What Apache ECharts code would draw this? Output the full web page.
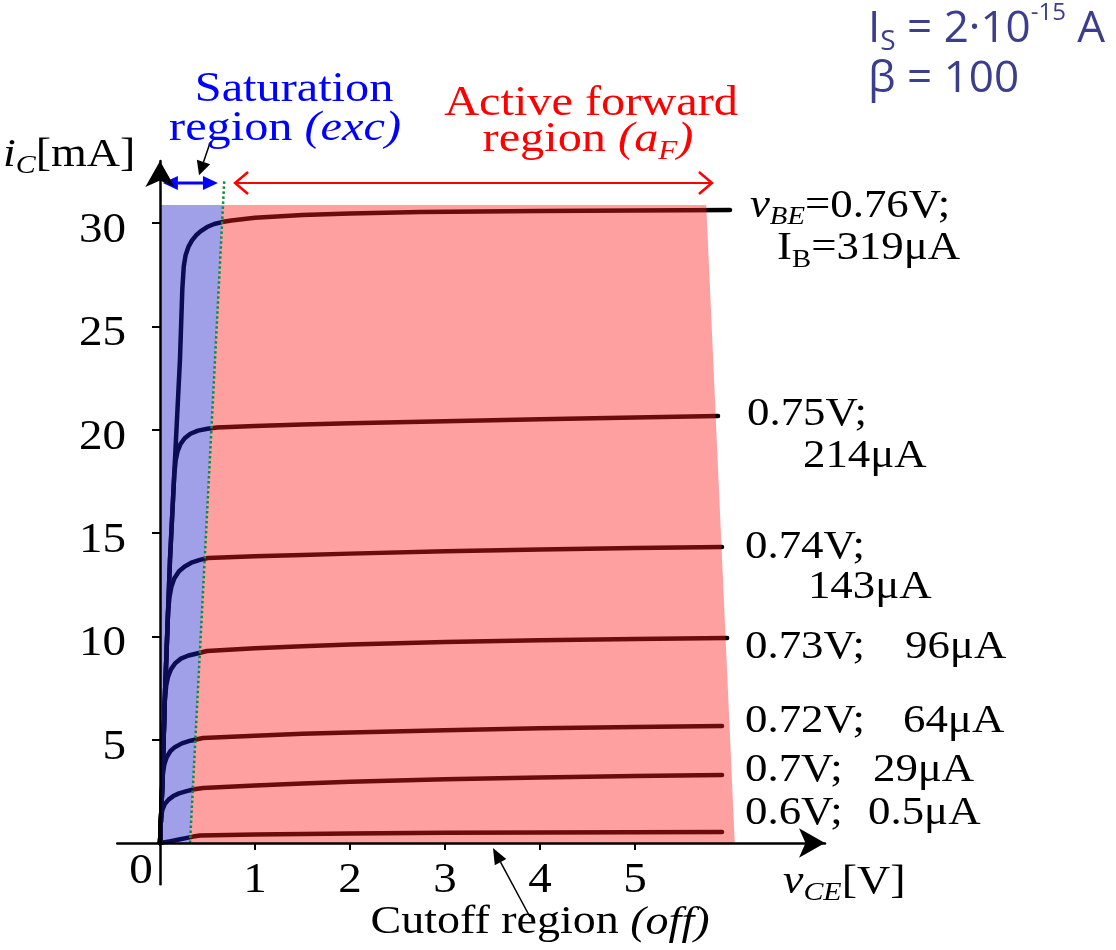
<!DOCTYPE html>
<html>
<head>
<meta charset="utf-8">
<title>BJT output characteristics</title>
<script src="https://cdn.jsdelivr.net/npm/echarts@6.0.0/dist/echarts.min.js"></script>
<style>
html,body{margin:0;padding:0;background:#ffffff;}
#chart{width:1116px;height:950px;}
</style>
</head>
<body>
<div id="chart"></div>
<script>
// ---------------- data ----------------
const xTickValues = [1, 2, 3, 4, 5];            // v_CE [V]
const yTickValues = [5, 10, 15, 20, 25, 30];    // i_C [mA]

const vbeValues = ['0.76V', '0.75V', '0.74V', '0.73V', '0.72V', '0.7V', '0.6V'];
const ibValues  = ['319μA', '214μA', '143μA', '96μA', '64μA', '29μA', '0.5μA'];

// curves: [v_CE (V), i_C (mA)]
const curveVbe076 = [[0,0],[0.021,2.42],[0.053,7.26],[0.105,13.69],[0.21,23.37],[0.235,26.8],[0.25,27.9],[0.27,28.45],[0.3,28.85],[0.337,29.15],[0.38,29.4],[0.43,29.6],[0.495,29.8],[0.57,29.95],[0.653,30.04],[0.75,30.12],[1.0,30.25],[1.5,30.38],[2.0,30.46],[2.74,30.53],[4.0,30.58],[6.0,30.62]];
const curveVbe075 = [[0,0],[0.021,2.42],[0.053,7.26],[0.105,13.69],[0.15,17.8],[0.165,18.5],[0.185,18.95],[0.215,19.3],[0.26,19.58],[0.32,19.8],[0.4,19.95],[0.5,20.04],[0.6,20.1],[1.0,20.18],[1.5,20.25],[2.0,20.31],[3.0,20.41],[4.0,20.5],[5.0,20.59],[5.874,20.66]];
const curveVbe074 = [[0,0],[0.021,2.42],[0.053,7.26],[0.085,11.2],[0.1,11.9],[0.12,12.4],[0.15,12.8],[0.2,13.15],[0.26,13.38],[0.33,13.56],[0.42,13.7],[0.505,13.79],[1.0,13.87],[1.5,13.93],[2.0,14.0],[3.0,14.11],[4.0,14.2],[5.0,14.27],[5.916,14.32]];
const curveVbe073 = [[0,0],[0.021,2.42],[0.05,6.9],[0.065,7.6],[0.085,8.05],[0.115,8.4],[0.16,8.7],[0.22,8.92],[0.3,9.07],[0.4,9.18],[0.495,9.29],[1.0,9.42],[1.5,9.52],[2.0,9.6],[3.0,9.72],[4.0,9.81],[5.0,9.87],[5.97,9.92]];
const curveVbe072 = [[0,0],[0.021,2.42],[0.03,3.3],[0.045,3.8],[0.07,4.15],[0.11,4.45],[0.16,4.65],[0.23,4.82],[0.32,4.95],[0.453,5.08],[1.0,5.19],[1.5,5.28],[2.0,5.35],[3.0,5.46],[4.0,5.55],[5.0,5.61],[5.916,5.66]];
const curveVbe070 = [[0,0],[0.01,1.2],[0.025,1.6],[0.05,1.88],[0.09,2.1],[0.14,2.27],[0.2,2.4],[0.28,2.51],[0.36,2.6],[0.453,2.66],[1.0,2.78],[1.5,2.88],[2.0,2.96],[3.0,3.08],[4.0,3.17],[5.0,3.24],[5.916,3.29]];
const curveVbe060 = [[0,0],[0.1,0.08],[0.2,0.17],[0.284,0.25],[0.35,0.31],[0.421,0.36],[1.0,0.41],[2.0,0.46],[3.0,0.49],[4.0,0.51],[5.916,0.53]];
const curves = [curveVbe076, curveVbe075, curveVbe074, curveVbe073, curveVbe072, curveVbe070, curveVbe060];

// operating regions: [v_CE, i_C]
const saturationRegion = [[0,30.87],[0.663,30.87],[0.316,0],[0,0]];
const activeRegion     = [[0.663,30.87],[5.75,30.87],[6.05,0],[0.316,0]];
const saturationBoundary = [[0.316,0],[0.677,32.08]];

// ---------------- layout / style (not data) ----------------
const SERIF = '"Liberation Serif", "Times New Roman", serif';
const SANS  = '"Open Sans", "Noto Sans", sans-serif';
const STRETCH = 1.15;

function serifRich(fs, color) {
  const L = Math.round(fs * 1.2), s = Math.round(fs * 0.64);
  return {
    n:  {fontFamily: SERIF, fontSize: fs, lineHeight: L, fill: color},
    i:  {fontFamily: SERIF, fontSize: fs, lineHeight: L, fill: color, fontStyle: 'italic'},
    si: {fontFamily: SERIF, fontSize: s, lineHeight: s, fill: color, fontStyle: 'italic', verticalAlign: 'bottom'},
    su: {fontFamily: SERIF, fontSize: s, lineHeight: s, fill: color, verticalAlign: 'bottom'}
  };
}
function sansRich(fs, color) {
  const L = Math.round(fs * 1.25);
  return {
    n:   {fontFamily: SANS, fontSize: fs, lineHeight: L, fill: color},
    sub: {fontFamily: SANS, fontSize: Math.round(fs * 0.64), lineHeight: Math.round(fs * 0.64), fill: color, verticalAlign: 'bottom'},
    sup: {fontFamily: SANS, fontSize: Math.round(fs * 0.55), lineHeight: Math.round(fs * 0.9), fill: color, verticalAlign: 'top'}
  };
}

// anchors of curve labels (data coords), left aligned
const curveLabelAnchors = [
  {a: [6.21, 30.8],  b: [6.495, 28.74]},
  {a: [6.179, 20.71], b: [6.768, 18.67]},
  {a: [6.158, 14.27], b: [6.82, 12.34]},
  {a: [6.158, 9.43],  b: [7.842, 9.43]},
  {a: [6.158, 5.85],  b: [7.821, 5.85]},
  {a: [6.158, 3.48],  b: [7.505, 3.48]},
  {a: [6.158, 1.40],  b: [7.453, 1.40]}
];

const texts = [];
vbeValues.forEach((v, k) => {
  const an = curveLabelAnchors[k];
  const rich = serifRich(39, '#000');
  if (k === 0) {
    texts.push({at: an.a, text: '{i|v}{si|BE}{n|=' + v + ';}', rich});
    texts.push({at: an.b, text: '{n|I}{su|B}{n|=' + ibValues[k] + '}', rich});
  } else {
    texts.push({at: an.a, text: '{n|' + v + ';}', rich});
    texts.push({at: an.b, text: '{n|' + ibValues[k] + '}', rich});
  }
});
// tick labels (drawn at the axis values, offset in pixels)
const tickRich = serifRich(42, '#000');
xTickValues.forEach(v => texts.push({at: [v, 0], dx: 0, dy: 38, align: 'center', sx: 1.12, text: '{n|' + v + '}', rich: tickRich}));
yTickValues.forEach(v => texts.push({at: [0, v], dx: -34, dy: 8, align: 'right', sx: 1.12, text: '{n|' + v + '}', rich: tickRich}));
texts.push({at: [0, 0], dx: -19, dy: 29, align: 'center', sx: 1.12, text: '{n|0}', rich: tickRich});
// region titles
texts.push({at: [1.411, 36.43], align: 'center', text: '{n|Saturation}', rich: serifRich(42, '#0000ff')});
texts.push({at: [1.316, 34.54], align: 'center', text: '{n|region }{i|(exc)}', rich: serifRich(42, '#0000ff')});
texts.push({at: [4.537, 35.75], align: 'center', text: '{n|Active forward}', rich: serifRich(42, '#ff0000')});
texts.push({at: [4.505, 34.01], align: 'center', text: '{n|region }{i|(a}{si|F}{i|)}', rich: serifRich(42, '#ff0000')});
texts.push({at: [4.0, -3.87], align: 'center', text: '{n|Cutoff region }{i|(off)}', rich: serifRich(40, '#000')});
// axis names
texts.push({at: [-1.653, 33.28], text: '{i|i}{si|C}{n|[mA]}', rich: serifRich(40, '#000')});
texts.push({at: [6.558, -1.887], text: '{i|v}{si|CE}{n|[V]}', rich: serifRich(40, '#000')});
// device parameters
texts.push({at: [7.453, 39.38], sx: 1, text: '{n|I}{sub|S}{n| = 2·10}{sup|-15}{n| A}', rich: sansRich(44, '#3c3e8c')});
texts.push({at: [7.453, 36.92], sx: 1, text: '{n|β = 100}', rich: sansRich(44, '#3c3e8c')});

// arrows (data coords)
const arrows = [
  {from: [0.03, 31.93], to: [0.61, 31.93], double: true, color: '#0000ff', width: 3, headLength: 15, headWidth: 14},
  {from: [0.79, 31.93], to: [5.81, 31.93], double: true, open: true, color: '#ff0000', width: 2, headLineWidth: 2.5, headLength: 13, headWidth: 22},
  {from: [0.526, 33.87], to: [0.411, 32.3], color: '#000', width: 1.5, headLength: 14, headWidth: 14},
  {from: [3.895, -3.58], to: [3.505, -0.24], color: '#000', width: 1.5, headLength: 16, headWidth: 13}
];

function head(tail, tip, L, W) {
  const dx = tip[0] - tail[0], dy = tip[1] - tail[1], len = Math.hypot(dx, dy) || 1;
  const ux = dx / len, uy = dy / len, nx = -uy, ny = ux;
  const bx = tip[0] - ux * L, by = tip[1] - uy * L;
  return {base: [bx, by], l: [bx + nx * W / 2, by + ny * W / 2], r: [bx - nx * W / 2, by - ny * W / 2]};
}
function drawHead(children, tail, tip, a) {
  const h = head(tail, tip, a.headLength, a.headWidth);
  if (a.open) {
    children.push({type: 'polyline', shape: {points: [h.l, tip, h.r]}, style: {stroke: a.color, lineWidth: a.headLineWidth, fill: null, lineJoin: 'miter'}});
    return tip;
  }
  children.push({type: 'polygon', shape: {points: [tip, h.l, h.r]}, style: {fill: a.color}});
  return h.base;
}

function renderRegions(params, api) {
  return {type: 'group', children: [
    {type: 'polygon', shape: {points: saturationRegion.map(p => api.coord(p))}, style: {fill: 'rgba(29,29,202,0.42)'}},
    {type: 'polygon', shape: {points: activeRegion.map(p => api.coord(p))}, style: {fill: 'rgba(255,29,29,0.42)'}}
  ]};
}

function renderAnnotations(params, api) {
  const children = [];
  arrows.forEach(a => {
    const p1 = api.coord(a.from), p2 = api.coord(a.to);
    const e2 = drawHead(children, p1, p2, a);
    const e1 = a.double ? drawHead(children, p2, p1, a) : p1;
    children.push({type: 'line', shape: {x1: e1[0], y1: e1[1], x2: e2[0], y2: e2[1]}, style: {stroke: a.color, lineWidth: a.width}});
  });
  texts.forEach(t => {
    const p = api.coord(t.at);
    children.push({
      type: 'text', x: p[0] + (t.dx || 0), y: p[1] + (t.dy || 0), scaleX: t.sx || STRETCH, scaleY: 1,
      style: {text: t.text, rich: t.rich, align: t.align || 'left', verticalAlign: 'middle'}
    });
  });
  return {type: 'group', children};
}

const chart = echarts.init(document.getElementById('chart'), null, {renderer: 'canvas', width: 1116, height: 950});

const curveSeries = curves.map((c, k) => ({
  type: 'line', name: vbeValues[k], data: c, z: 2,
  symbol: 'none', smooth: false, silent: true,
  lineStyle: {color: '#000', width: 4.5, join: 'round', cap: 'round'}
}));

chart.setOption({
  animation: false,
  backgroundColor: '#ffffff',
  grid: {left: 117.25, right: 291, top: 160.9, bottom: 65.66, outerBoundsMode: 'none', containLabel: false},
  xAxis: {
    type: 'value', min: -0.45, max: 7, z: 10,
    axisLine: {onZero: true, lineStyle: {color: '#000', width: 2.5}, symbol: ['none', 'arrow'], symbolSize: [22, 26]},
    axisTick: {show: true, customValues: xTickValues, length: 7, lineStyle: {color: '#000', width: 2}},
    axisLabel: {show: false},
    splitLine: {show: false}
  },
  yAxis: {
    type: 'value', min: -2, max: 33, z: 10,
    axisLine: {onZero: true, lineStyle: {color: '#000', width: 2.5}, symbol: ['none', 'arrow'], symbolSize: [22, 26]},
    axisTick: {show: true, customValues: yTickValues, length: 8, lineStyle: {color: '#000', width: 2}},
    axisLabel: {show: false},
    splitLine: {show: false}
  },
  series: curveSeries.concat([
    {type: 'custom', name: 'regions', z: 3, silent: true, clip: false, data: [[0, 0]], renderItem: renderRegions},
    {type: 'line', name: 'boundary', z: 4, data: saturationBoundary, symbol: 'none', silent: true,
     lineStyle: {color: '#138a3a', width: 2.5, type: 'dotted'}},
    {type: 'custom', name: 'annotations', z: 5, silent: true, clip: false, data: [[0, 0]], renderItem: renderAnnotations}
  ])
});
</script>
</body>
</html>
